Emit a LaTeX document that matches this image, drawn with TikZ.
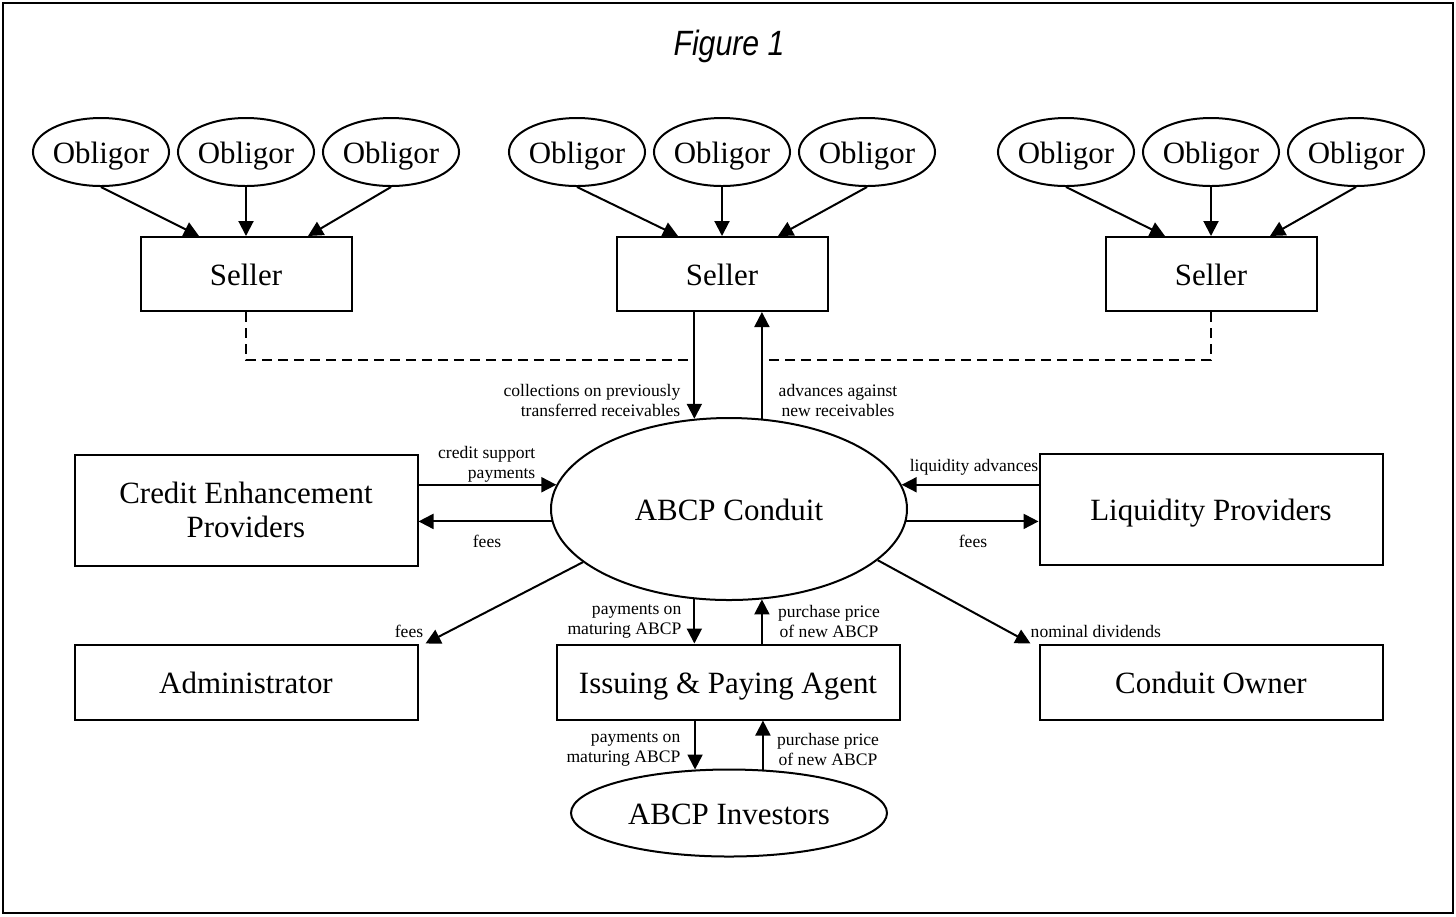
\documentclass[tikz,border=0pt]{standalone}
\usepackage{fontspec}
\setmainfont{Liberation Serif}
\newfontfamily\titlefont{Liberation Sans}
\usetikzlibrary{arrows.meta,shapes.geometric}

\begin{document}
\begin{tikzpicture}[x=0.1mm,y=-0.1mm]
	\tikzstyle{party}=[draw,line width=0.2mm,rectangle,inner sep=0pt,font=\fontsize{8.8}{9.8}\selectfont,align=center]
	\tikzstyle{oneline}=[text height=0.68em,text depth=0pt]
	\tikzstyle{obligor}=[draw,line width=0.2mm,ellipse,inner sep=0pt,minimum width=13.2mm,minimum height=6.8mm,font=\fontsize{8.8}{9.6}\selectfont,oneline]
	\tikzstyle{flow}=[inner sep=0pt,font=\fontsize{5}{5.7}\selectfont]
	\tikzstyle{edge}=[draw,line width=0.2mm,-{Triangle[length=1.5mm,width=1.5mm]}]
	\tikzstyle{link}=[draw,line width=0.15mm,dash pattern=on 1mm off 0.6mm]

	\useasboundingbox (0,0) rectangle (1456,916);
	\draw[line width=0.15mm] (3,3) rectangle (1453,913);
	\node (title) at (729,46) {\titlefont\fontsize{10}{12}\selectfont\scalebox{0.86}[1]{\itshape Figure 1}};

	% obligors and sellers
	\node[obligor] (ob1) at (101,152) {Obligor};
	\node[obligor] (ob2) at (246,152) {Obligor};
	\node[obligor] (ob3) at (391,152) {Obligor};
	\node[obligor] (ob4) at (577,152) {Obligor};
	\node[obligor] (ob5) at (722,152) {Obligor};
	\node[obligor] (ob6) at (867,152) {Obligor};
	\node[obligor] (ob7) at (1066,152) {Obligor};
	\node[obligor] (ob8) at (1211,152) {Obligor};
	\node[obligor] (ob9) at (1356,152) {Obligor};

	\node[party,oneline,minimum width=21.1mm,minimum height=7.4mm] (sel1) at (246,274) {Seller};
	\node[party,oneline,minimum width=21.1mm,minimum height=7.4mm] (sel2) at (722,274) {Seller};
	\node[party,oneline,minimum width=21.1mm,minimum height=7.4mm] (sel3) at (1211,274) {Seller};

	\draw[edge] (ob1.south) -- ([xshift=-4.7mm]sel1.north);
	\draw[edge] (ob2.south) -- (sel1.north);
	\draw[edge] (ob3.south) -- ([xshift=6.2mm]sel1.north);
	\draw[edge] (ob4.south) -- ([xshift=-4.4mm]sel2.north);
	\draw[edge] (ob5.south) -- (sel2.north);
	\draw[edge] (ob6.south) -- ([xshift=5.6mm]sel2.north);
	\draw[edge] (ob7.south) -- ([xshift=-4.6mm]sel3.north);
	\draw[edge] (ob8.south) -- (sel3.north);
	\draw[edge] (ob9.south) -- ([xshift=5.9mm]sel3.north);

	% conduit and the parties round it
	\node[party,oneline,ellipse,minimum width=35.6mm,minimum height=18.2mm] (abcp) at (729,509) {ABCP Conduit};
	\node[party,minimum width=34.3mm,minimum height=11.1mm] (cep) at (246,510) {Credit Enhancement\\Providers};
	\node[party,oneline,minimum width=34.3mm,minimum height=11.1mm] (lp) at (1211,509) {Liquidity Providers};
	\node[party,oneline,minimum width=34.3mm,minimum height=7.5mm] (adm) at (246,682) {Administrator};
	\node[party,oneline,minimum width=34.3mm,minimum height=7.5mm] (ipa) at (728,682) {Issuing \& Paying Agent};
	\node[party,oneline,minimum width=34.3mm,minimum height=7.5mm] (own) at (1211,682) {Conduit Owner};
	\node[party,oneline,ellipse,minimum width=31.6mm,minimum height=8.7mm] (inv) at (729,813) {ABCP Investors};

	\coordinate (dl) at (abcp.111 |- 0,360);
	\coordinate (dr) at (abcp.70 |- 0,360);
	\draw[link] (sel1.south) |- (dl);
	\draw[link] (sel3.south) |- (dr);

	\draw[edge] (sel2.south -| abcp.111) -- (abcp.111);
	\draw[edge] (abcp.70) -- (sel2.south -| abcp.70);
	\draw[edge] (cep.east |- abcp.172) -- (abcp.172);
	\draw[edge] (abcp.184) -- (cep.east |- abcp.184);
	\draw[edge] (lp.west |- abcp.8) -- (abcp.8);
	\draw[edge] (abcp.356) -- (lp.west |- abcp.356);
	\draw[edge] (abcp.200) -- ([xshift=0.7mm]adm.north east);
	\draw[edge] (abcp.341) -- ([xshift=-0.8mm]own.north west);
	\draw[edge] (abcp.249) -- (ipa.north -| abcp.249);
	\draw[edge] (ipa.north -| abcp.290) -- (abcp.290);
	\draw[edge] (ipa.south -| inv.128) -- (inv.128);
	\draw[edge] (inv.52) -- (ipa.south -| inv.52);

	% flow labels
	\node[flow,anchor=east,align=right] (lcoll) at (681,400) {collections on previously\\transferred receivables};
	\node[flow,align=center] (ladv) at (838,400) {advances against\\new receivables};
	\node[flow,anchor=east,align=right] (lcred) at (536,464) {credit support\\payments};
	\node[flow] (lfee1) at (487,541) {fees};
	\node[flow] (lliq) at (974,467) {liquidity advances};
	\node[flow] (lfee2) at (973,541) {fees};
	\node[flow] (lfee3) at (409,631) {fees};
	\node[flow,anchor=west] (ldiv) at (1030,631) {nominal dividends};
	\node[flow,anchor=east,align=right] (lpay1) at (682,621) {payments on\\maturing ABCP};
	\node[flow,align=center] (lbuy1) at (829,621) {purchase price\\of new ABCP};
	\node[flow,anchor=east,align=right] (lpay2) at (681,749) {payments on\\maturing ABCP};
	\node[flow,align=center] (lbuy2) at (828,749) {purchase price\\of new ABCP};
\end{tikzpicture}
\end{document}
